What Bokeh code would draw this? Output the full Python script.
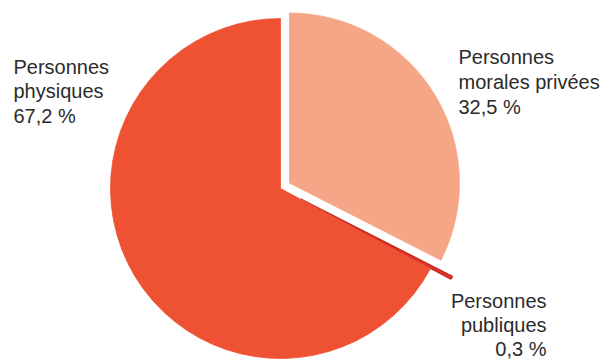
import math
from bokeh.plotting import figure
from bokeh.models import Range1d, ColumnDataSource
from bokeh.core.properties import value
from bokeh.embed import file_html
from bokeh.resources import INLINE

categories = ["Personnes morales privées", "Personnes publiques", "Personnes physiques"]
shares = [32.5, 0.3, 67.2]
colors = ["#F5A686", "#E8332A", "#EF5133"]
outline = ["#F5A686", "#C42A20", "#EF5133"]
line_w = [0.8, 1.4, 0.8]
explode = [10.5, 23.0, 0.0]

W, H = 604, 360
p = figure(width=W, height=H, output_backend="svg", toolbar_location=None,
           x_range=Range1d(0, W), y_range=Range1d(0, H),
           min_border=0, outline_line_color=None, background_fill_color="white")
p.axis.visible = False
p.grid.visible = False

cx, cy, R = 280.0, 360 - 188.0, 170.0
total = sum(shares)
start = 90.0
xs, ys, sa, ea = [], [], [], []
for s, ex in zip(shares, explode):
    sweep = s / total * 360.0
    end = start - sweep
    mid = math.radians((start + end) / 2)
    xs.append(cx + ex * math.cos(mid))
    ys.append(cy + ex * math.sin(mid))
    sa.append(math.radians(end))
    ea.append(math.radians(start))
    start = end

src = ColumnDataSource(dict(x=xs, y=ys, start=sa, end=ea, color=colors, lc=outline, lw=line_w))
p.wedge(x="x", y="y", radius=R, start_angle="start", end_angle="end",
        fill_color="color", line_color="lc", line_width="lw", source=src)

def fmt(v):
    return f"{v:.1f}".replace(".", ",") + " %"

def lines_for(i):
    name = categories[i]
    first, rest = name.split(" ", 1)
    return [first, rest, fmt(shares[i])]

# label anchors (screen coords): x, first baseline, line step, align
anchors = {2: (13, 66, 24.5, "left"), 0: (458, 56, 25, "left"), 1: (546, 300, 24, "right")}
tx, ty, tt, ta = [], [], [], []
for i, (ax, ay, step, al) in anchors.items():
    for k, line in enumerate(lines_for(i)):
        tx.append(ax)
        ty.append(360 - (ay + k * step))
        tt.append(line)
        ta.append(al)
tsrc = ColumnDataSource(dict(x=tx, y=ty, text=tt, align=ta))
p.text(x="x", y="y", text="text", text_align="align", text_baseline="alphabetic",
       text_font=value("Liberation Sans"), text_font_size="20px", text_color="#2b2b2b",
       source=tsrc)

open("out.html", "w").write(file_html(p, INLINE))
